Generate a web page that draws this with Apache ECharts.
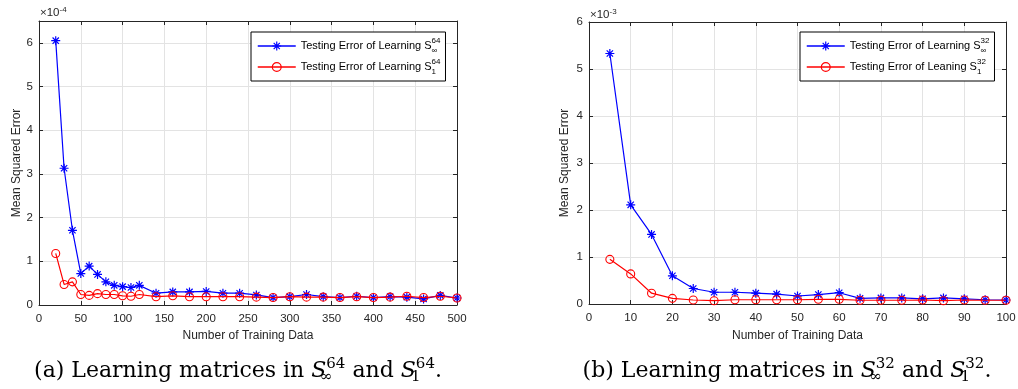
<!DOCTYPE html>
<html><head><meta charset="utf-8">
<script src="https://cdn.jsdelivr.net/npm/echarts@6/dist/echarts.min.js"></script>
<style>html,body{margin:0;padding:0;background:#fff}#c{width:1018px;height:389px}</style>
</head><body><div id="c"></div>
<script>
// ---------- Panel (a): S^64, values in units of 1e-4 ----------
const xA = [20,30,40,50,60,70,80,90,100,110,120,140,160,180,200,220,240,260,280,300,320,340,360,380,400,420,440,460,480,500];
const infA = [6.05,3.13,1.71,0.72,0.89,0.70,0.53,0.45,0.42,0.40,0.45,0.27,0.30,0.30,0.31,0.27,0.27,0.23,0.17,0.19,0.24,0.19,0.17,0.20,0.17,0.19,0.18,0.14,0.22,0.16];
const oneA = [1.18,0.47,0.53,0.24,0.22,0.26,0.24,0.24,0.21,0.20,0.24,0.19,0.21,0.19,0.19,0.19,0.19,0.18,0.17,0.19,0.18,0.18,0.17,0.19,0.17,0.18,0.20,0.17,0.20,0.16];
const scaleA = 1e-4;
// ---------- Panel (b): S^32, values in units of 1e-3 ----------
const xB = [5,10,15,20,25,30,35,40,45,50,55,60,65,70,75,80,85,90,95,100];
const infB = [5.33,2.11,1.48,0.60,0.33,0.25,0.25,0.23,0.21,0.17,0.20,0.24,0.12,0.13,0.13,0.11,0.13,0.11,0.09,0.085];
const oneB = [0.95,0.64,0.23,0.12,0.085,0.07,0.09,0.09,0.09,0.09,0.10,0.10,0.08,0.08,0.08,0.085,0.07,0.085,0.08,0.08];
const scaleB = 1e-3;
// axis ranges (display units)
const yMaxA = 6.5, yMaxB = 6, yStep = 1;
const xMaxA = 500, xStepA = 50, xMaxB = 100, xStepB = 10;
// texts
const xName = 'Number of Training Data';
const yName = 'Mean Squared Error';
const legendA = ['Testing Error of Learning S{sub|∞}{sup|64}', 'Testing Error of Learning S{sub|1}{sup|64}'];
const legendB = ['Testing Error of Learning S{sub|∞}{sup|32}', 'Testing Error of Leaning S{sub|1}{sup|32}'];
const captionA = '(a) Learning matrices in {it|S}{sub|∞}{sup|64} and {it|S}{sub|1}{sup|64}.';
const captionB = '(b) Learning matrices in {it|S}{sub|∞}{sup|32} and {it|S}{sub|1}{sup|32}.';
const expA = '×10{sup|-4}', expB = '×10{sup|-3}';

const AX = '#262626', GRIDC = '#e3e3e3', FONT = 'Liberation Sans', SERIF = 'DejaVu Serif';
const STAR = 'path://M0 5L10 5M5 0L5 10M1.5 1.5L8.5 8.5M8.5 1.5L1.5 8.5';

function xAxes(gi, max, step, gap){
  const common = {gridIndex:gi, type:'value', min:0, max:max, interval:step,
    axisLine:{onZero:false, lineStyle:{color:AX, width:1}},
    axisTick:{inside:true, length:4, lineStyle:{color:AX}}};
  return [
    Object.assign({}, common, {position:'bottom',
      axisLabel:{color:AX, fontSize:11.5, fontFamily:FONT, margin:8},
      splitLine:{show:true, lineStyle:{color:GRIDC, width:1}},
      name:xName, nameLocation:'middle', nameGap:gap,
      nameTextStyle:{color:AX, fontSize:12, fontFamily:FONT}}),
    Object.assign({}, common, {position:'top', axisLabel:{show:false}, splitLine:{show:false}})
  ];
}
function yAxes(gi, max, scale, gap, showMax){
  const common = {gridIndex:gi, type:'value', min:0, max:max*scale, interval:yStep*scale,
    axisLine:{onZero:false, lineStyle:{color:AX, width:1}},
    axisTick:{inside:true, length:4, lineStyle:{color:AX}}};
  return [
    Object.assign({}, common, {position:'left',
      axisLabel:{color:AX, fontSize:11.5, fontFamily:FONT, margin:6, showMaxLabel:showMax,
        formatter:v => String(Math.round(v/scale*100)/100)},
      splitLine:{show:true, lineStyle:{color:GRIDC, width:1}},
      name:yName, nameLocation:'middle', nameGap:gap,
      nameTextStyle:{color:AX, fontSize:12, fontFamily:FONT}}),
    Object.assign({}, common, {position:'right', axisLabel:{show:false}, splitLine:{show:false}})
  ];
}
function starSeries(name, xs, ys, scale, xi, yi){
  return {name, type:'line', xAxisIndex:xi, yAxisIndex:yi,
    data: xs.map((x,i)=>[x, ys[i]*scale]),
    symbol:STAR, symbolSize:9, showSymbol:true, showAllSymbol:true,
    itemStyle:{color:'#0000ff', borderColor:'#0000ff', borderWidth:1.2},
    lineStyle:{color:'#0000ff', width:1.2}, emphasis:{disabled:true}, z:2};
}
function circSeries(name, xs, ys, scale, xi, yi){
  return {name, type:'line', xAxisIndex:xi, yAxisIndex:yi,
    data: xs.map((x,i)=>[x, ys[i]*scale]),
    symbol:'circle', symbolSize:8, showSymbol:true, showAllSymbol:true,
    itemStyle:{color:'rgba(255,255,255,0)', borderColor:'#ff0000', borderWidth:1.1},
    lineStyle:{color:'#ff0000', width:1.2}, emphasis:{disabled:true}, z:3};
}
const legRich = {
  sup:{fontSize:8, fontFamily:FONT, color:'#000', verticalAlign:'top', lineHeight:8},
  sub:{fontSize:8, fontFamily:FONT, color:'#000', verticalAlign:'bottom', lineHeight:6, width:0}
};
function legend(names, texts, left){
  const map = {}; names.forEach((n,i)=>map[n]=texts[i]);
  return {data:names, orient:'vertical', left:left, top:32, selectedMode:false,
    formatter:n => map[n],
    backgroundColor:'#fff', borderColor:'#000', borderWidth:1, borderRadius:0,
    padding:[5,5,5,6], itemWidth:38, itemHeight:11, itemGap:3,
    itemStyle:{borderWidth:1.2}, lineStyle:{width:1.5},
    textStyle:{fontSize:11, fontFamily:FONT, color:'#000', lineHeight:18, rich:legRich}};
}
const capRich = {
  it:{fontSize:22, fontFamily:SERIF, fontStyle:'italic', color:'#000'},
  sup:{fontSize:15, fontFamily:SERIF, color:'#000', verticalAlign:'top', lineHeight:17},
  sub:{fontSize:15, fontFamily:SERIF, color:'#000', verticalAlign:'bottom', lineHeight:11, width:0}
};
const expRich = {sup:{fontSize:8, fontFamily:FONT, color:AX, verticalAlign:'top', lineHeight:8}};

const option = {
  animation:false,
  backgroundColor:'#fff',
  grid:[
    {left:39, top:21, width:418, height:284, outerBoundsMode:'none'},
    {left:589, top:22, width:417, height:282, outerBoundsMode:'none'}
  ],
  xAxis: [...xAxes(0, xMaxA, xStepA, 25), ...xAxes(1, xMaxB, xStepB, 26)],
  yAxis: [...yAxes(0, yMaxA, scaleA, 16, false), ...yAxes(1, yMaxB, scaleB, 18, true)],
  legend:[legend(['a_inf','a_one'], legendA, 251), legend(['b_inf','b_one'], legendB, 800)],
  series:[
    starSeries('a_inf', xA, infA, scaleA, 0, 0),
    circSeries('a_one', xA, oneA, scaleA, 0, 0),
    starSeries('b_inf', xB, infB, scaleB, 2, 2),
    circSeries('b_one', xB, oneB, scaleB, 2, 2)
  ],
  graphic:[
    {type:'text', x:40, y:13, style:{text:expA, fontSize:11.5, fontFamily:FONT, fill:AX, verticalAlign:'middle', textVerticalAlign:'middle', lineHeight:14, rich:expRich}},
    {type:'text', x:590, y:15, style:{text:expB, fontSize:11.5, fontFamily:FONT, fill:AX, verticalAlign:'middle', textVerticalAlign:'middle', lineHeight:14, rich:expRich}},
    {type:'text', x:238, y:371, style:{text:captionA, fontSize:22, fontFamily:SERIF, fill:'#000', align:'center', textAlign:'center', verticalAlign:'middle', textVerticalAlign:'middle', lineHeight:28, rich:capRich}},
    {type:'text', x:787, y:371, style:{text:captionB, fontSize:22, fontFamily:SERIF, fill:'#000', align:'center', textAlign:'center', verticalAlign:'middle', textVerticalAlign:'middle', lineHeight:28, rich:capRich}}
  ]
};
const chart = echarts.init(document.getElementById('c'));
chart.setOption(option);
</script></body></html>
